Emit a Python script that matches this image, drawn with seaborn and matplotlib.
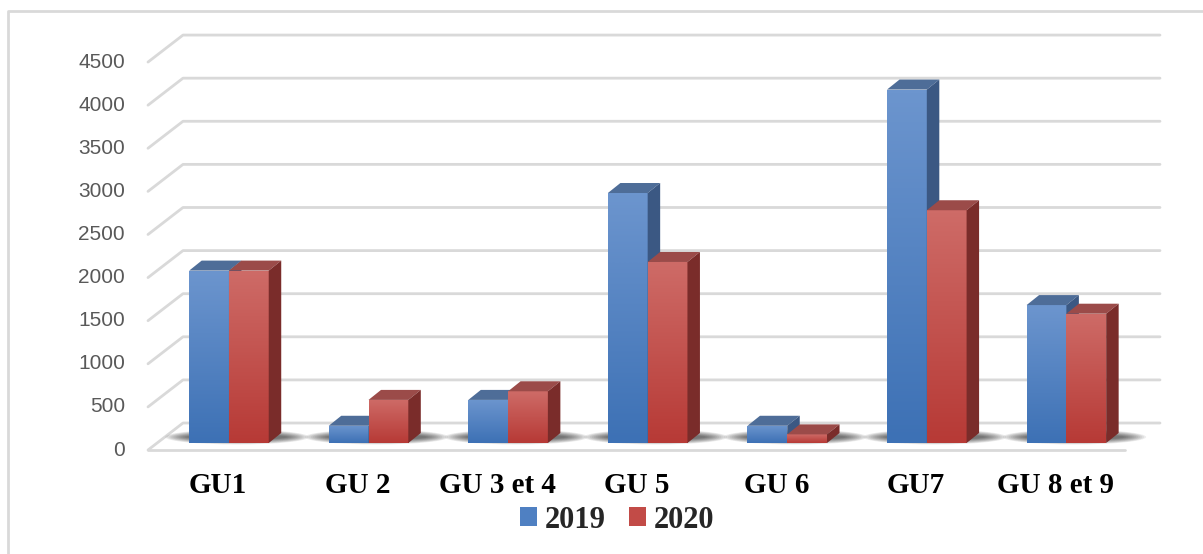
import numpy as np
import pandas as pd
import seaborn as sns
import matplotlib
matplotlib.use("Agg")
import matplotlib.pyplot as plt
from matplotlib.patches import Polygon, Ellipse, Patch
from matplotlib.lines import Line2D
from matplotlib.transforms import IdentityTransform, ScaledTranslation, blended_transform_factory
from matplotlib.colors import LinearSegmentedColormap

# ---- data ----
sites = ["GU1", "GU 2", "GU 3 et 4", "GU 5", "GU 6", "GU7", "GU 8 et 9"]
years = ["2019", "2020"]
values_2019 = [2000, 200, 500, 2900, 200, 4100, 1600]
values_2020 = [2000, 500, 600, 2100, 100, 2700, 1500]
y_ticks = list(range(0, 5000, 500))

df = pd.DataFrame({
    "site": sites * 2,
    "year": [years[0]] * len(sites) + [years[1]] * len(sites),
    "value": values_2019 + values_2020,
})

# ---- styling ----
DPI = 100
W, H = 1203, 554
FRONT = (0.0, -7.0)     # front edge of the floor, relative to the bar plane (px)
BACK = (35.0, 20.0)     # back wall, relative to the bar plane (px)
DEPTH = (12.5, 10.0)    # bar depth (px)
GRID = "#d9d9d9"

faces = {
    "2019": dict(top_grad="#6c95ce", bot_grad="#3d71b5", top="#4e6d98", side="#3b5883", mid="#4f80c2"),
    "2020": dict(top_grad="#ce6b67", bot_grad="#b73a36", top="#9b4b49", side="#7a2c2a", mid="#c24b47"),
}

sns.set_theme(style="white")
fig = plt.figure(figsize=(W / DPI, H / DPI), dpi=DPI)
ax = fig.add_axes([148 / W, 104 / H, 977 / W, 417 / H])
ax.patch.set_alpha(0)

sns.barplot(data=df, x="site", y="value", hue="year", hue_order=years,
            palette=[faces[y]["mid"] for y in years], width=0.57,
            saturation=1, legend=False, ax=ax, zorder=3)

XLIM = (-0.58, 6.42)
YLIM = (-81, 4756)

# vertical gradients on the front faces
for k, year in enumerate(years):
    f = faces[year]
    cmap = LinearSegmentedColormap.from_list(year, [f["bot_grad"], f["top_grad"]])
    for bar in ax.containers[k]:
        bar.set_zorder(3 + k)
        bar.set_edgecolor("none")
        x0, w, h = bar.get_x(), bar.get_width(), bar.get_height()
        grad = np.linspace(0, 1, 64).reshape(-1, 1)
        im = ax.imshow(grad, cmap=cmap, aspect="auto", origin="lower",
                       extent=(x0, x0 + w, 0, h), zorder=3 + k + 0.01,
                       interpolation="bilinear")
        im.set_clip_path(bar)

ax.set_xlim(*XLIM)
ax.set_ylim(*YLIM)
ax.set_autoscale_on(False)
for s in ax.spines.values():
    s.set_visible(False)
ax.set_xlabel("")
ax.set_ylabel("")
ax.set_yticks(y_ticks)
ax.set_xticks(range(len(sites)))
ax.tick_params(left=False, bottom=False, labelleft=False, labelbottom=False)

ident = IdentityTransform()


def disp(x, y, off=(0.0, 0.0)):
    px, py = ax.transData.transform((x, y))
    return px + off[0], py + off[1]


def add_line(xs, ys, **kw):
    ln = Line2D(xs, ys, transform=ident, **kw)
    ln.set_clip_on(False)
    ax.add_line(ln)


# back wall grid lines and the slanted side-wall lines
for v in y_ticks:
    a = disp(XLIM[0], v, FRONT)
    b = disp(XLIM[0], v, BACK)
    c = disp(XLIM[1], v, BACK)
    add_line([a[0], b[0], c[0]], [a[1], b[1], c[1]], color=GRID, lw=2, zorder=1)
# front edge of the floor
a = disp(XLIM[0], 0, FRONT)
b = disp(XLIM[1], 0, FRONT)
add_line([a[0], b[0]], [a[1], b[1]], color=GRID, lw=2, zorder=1)

# y tick labels on the front plane
ytf = ax.get_yaxis_transform() + ScaledTranslation(-23 / DPI, FRONT[1] / DPI, fig.dpi_scale_trans)
for v in y_ticks:
    ax.text(0, v, f"{v}", transform=ytf, ha="right", va="center",
            fontfamily="Liberation Sans", fontsize=15, color="#595959")

# category labels below the floor
xtf = blended_transform_factory(ax.transData, ax.transAxes) + \
    ScaledTranslation(-11 / DPI, -43 / DPI, fig.dpi_scale_trans)
for i, name in enumerate(sites):
    ax.text(i, 0, name, transform=xtf, ha="center", va="baseline",
            fontfamily="Liberation Serif", fontweight="bold", fontsize=21,
            color="black")

# soft floor shadows under each pair of bars (stacked translucent ellipses)
for p, q in zip(ax.containers[0], ax.containers[1]):
    lx, by = disp(p.get_x(), 0)
    rx, _ = disp(q.get_x() + q.get_width(), 0)
    cx = (lx + rx) / 2 + 8
    gw = rx - lx
    for t in np.linspace(0, 1, 12):
        e = Ellipse((cx, by + 6), gw + 64 - 44 * t, 15 - 10 * t, transform=ident,
                    facecolor="#1a1a1a", edgecolor="none", alpha=0.07, zorder=2)
        ax.add_patch(e)
        e.set_clip_on(False)

# top and side faces of each bar
for k, year in enumerate(years):
    f = faces[year]
    for bar in ax.containers[k]:
        x0, w, h = bar.get_x(), bar.get_width(), bar.get_height()
        p1 = disp(x0, h)
        p2 = disp(x0 + w, h)
        p3 = disp(x0 + w, 0)
        dx, dy = DEPTH
        top = Polygon([p1, p2, (p2[0] + dx, p2[1] + dy), (p1[0] + dx, p1[1] + dy)],
                      closed=True, transform=ident, facecolor=f["top"],
                      edgecolor="none", zorder=3 + k + 0.5)
        side = Polygon([p3, p2, (p2[0] + dx, p2[1] + dy), (p3[0] + dx, p3[1] + dy)],
                       closed=True, transform=ident, facecolor=f["side"],
                       edgecolor="none", zorder=3 + k + 0.5)
        for poly in (top, side):
            ax.add_patch(poly)
            poly.set_clip_on(False)

# legend
handles = [Patch(facecolor=faces[y]["mid"], edgecolor="none", label=y) for y in years]
fig.legend(handles=handles, loc="center", bbox_to_anchor=(617 / W, 34 / H),
           ncol=2, frameon=False,
           prop=dict(family="Liberation Serif", weight="bold", size=22),
           handlelength=0.56, handleheight=0.56, handletextpad=0.25,
           columnspacing=0.75, borderaxespad=0)

# chart frame
fig.add_artist(Line2D([8 / W, 8 / W, 1.0], [0.0, 1 - 11 / H, 1 - 11 / H],
                      transform=fig.transFigure, color=GRID, lw=2))

fig.savefig("out.png", dpi=DPI, facecolor="white")
